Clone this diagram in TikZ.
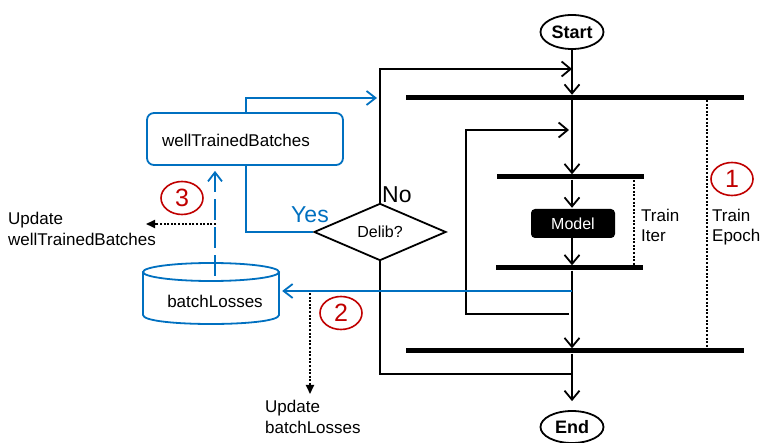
\documentclass[tikz,border=0pt]{standalone}
\usepackage{fontspec}
\setmainfont{Liberation Sans}
\usetikzlibrary{arrows.meta,shapes.geometric,calc}
\definecolor{myblue}{HTML}{0070C0}
\definecolor{myred}{HTML}{C00000}
\newcommand{\fs}[1]{\fontsize{#1}{#1}\selectfont}
\begin{document}
\begin{tikzpicture}[x=1pt,y=-1pt,
  line/.style={draw=black, line width=1.8pt},
  arr/.style={line, -{Straight Barb[length=9pt,width=15pt,line width=1.8pt]}},
  bline/.style={draw=myblue, line width=1.8pt},
  barr/.style={bline, -{Straight Barb[length=9pt,width=14pt,line width=1.8pt]}},
  darr/.style={draw=black, line width=2pt, dash pattern=on 2pt off 1.6pt, -{Triangle[length=9pt,width=8pt]}},
  dline/.style={draw=black, line width=2pt, dash pattern=on 2pt off 1.6pt},
  bar/.style={fill=black, inner sep=0pt, minimum height=5pt},
  terminal/.style={ellipse, draw=black, line width=1.8pt, inner sep=0pt, font=\bfseries\fs{18}},
  lbl/.style={font=\fs{17}, inner sep=0pt},
  num/.style={ellipse, draw=myred, line width=1.6pt, text=myred, inner sep=0pt, minimum width=42pt, minimum height=33pt, font=\fs{25}},
]
\useasboundingbox (0,0) rectangle (763,443);

% right column
\node[terminal, minimum width=63pt, minimum height=34pt] (start) at (572,32) {Start};
\node[terminal, minimum width=63pt, minimum height=32pt] (end) at (572,427) {End};
\node[bar, minimum width=338pt] (bar1) at (575,97.5) {};
\node[bar, minimum width=147pt] (bar2) at (570.5,177) {};
\node[fill=black, rounded corners=4pt, minimum width=84pt, minimum height=29pt, inner sep=0pt, text=white, font=\fs{16}] (model) at (573,223.5) {Model};
\node[bar, minimum width=147pt] (bar3) at (569.5,268) {};
\node[bar, minimum width=338pt] (bar4) at (575,351) {};

\draw[arr] (start.south) -- (start.south |- bar1.north);
\draw[arr] (bar1.south -| start) -- (bar2.north -| start);
\draw[arr] (bar2.south -| start) -- ($(model.north -| start)+(0,-1)$);
\draw[arr] (model.south -| start) -- (bar3.north -| start);
\draw[arr] (bar3.south -| start) -- (bar4.north -| start);
\draw[arr, shorten >=9pt] (bar4.south -| start) -- (end.north);

% train iter / epoch markers
\coordinate (ti1) at (634,180);
\draw[dline] (ti1) -- (ti1 |- bar3.north);
\node[lbl, anchor=west, align=left] (tilbl) at (641,225) {Train\\[3pt]Iter};
\coordinate (te1) at (707,100);
\draw[dline] (te1) -- (te1 |- bar4.north);
\node[lbl, anchor=west, align=left] (telbl) at (712,227) {Train\\[3pt]Epoch};
\node[num] (n1) at (732,179) {1};

% decision
\node[diamond, draw=black, line width=1.8pt, inner sep=0pt, minimum width=132pt, minimum height=49pt, font=\fs{16}] (delib) at (380,232) {Delib?};
\node[font=\fs{23}, inner sep=0pt, anchor=west] (no) at (382,195) {No};

% outer loop
\coordinate (o1) at (572,374);
\coordinate (o2) at (572,69);
\draw[line] (o1) -| (delib.south);
\draw[arr] (delib.north) |- (o2);

% inner loop
\coordinate (i1) at (569,314);
\coordinate (iL) at (466,130);
\coordinate (i2) at (569,130);
\draw[arr] (i1) -| (iL) -- (i2);

% well trained batches box
\node[draw=myblue, line width=1.8pt, rounded corners=7pt, minimum width=196pt, minimum height=52pt, inner sep=0pt] (wtb) at (245,139) {};
\node[lbl, anchor=west] (wtbtxt) at (162,140) {wellTrainedBatches};
\coordinate (wt) at (246,113);
\coordinate (ba) at (377,98);
\draw[barr] (wtb.north -| wt) |- (ba);
\draw[bline] (wtb.south -| wt) |- (delib.west);
\node[font=\fs{23}, text=myblue, inner sep=0pt] (yes) at (310,215) {Yes};

% batchLosses cylinder
\node[minimum width=136pt, minimum height=61pt, inner sep=0pt] (bl) at (211,293.5) {};
\draw[bline] (211,272) ellipse [x radius=68, y radius=9];
\draw[bline] (143,272) -- (143,315) .. controls (143,327) and (279,327) .. (279,315) -- (279,272);
\node[lbl] (bltxt) at (215,301) {batchLosses};

% blue feed from train iter
\coordinate (b1) at (572,291);
\draw[barr] (b1) -- ($(b1 -| bl.east)+(3,0)$);

% dashed blue arrow up
\coordinate (ds) at (215,276);
\draw[barr, dash pattern=on 21pt off 7pt] (ds) -- ($(ds |- wtb.south)+(0,5)$);

% update arrows
\coordinate (u1) at (216,224);
\coordinate (u2) at (146,224);
\draw[darr] (u1) -- (u2);
\node[lbl, anchor=west, align=left] (upd1) at (8,229) {Update\\[4pt]wellTrainedBatches};
\node[num] (n3) at (182,198) {3};

\coordinate (v1) at (310,293);
\node[lbl, anchor=north west, align=left] (upd2) at (265,400) {Update\\[4pt]batchLosses};
\draw[darr] (v1) -- ($(v1 |- upd2.north)+(0,-6)$);
\node[num] (n2) at (341,313) {2};
\end{tikzpicture}
\end{document}
